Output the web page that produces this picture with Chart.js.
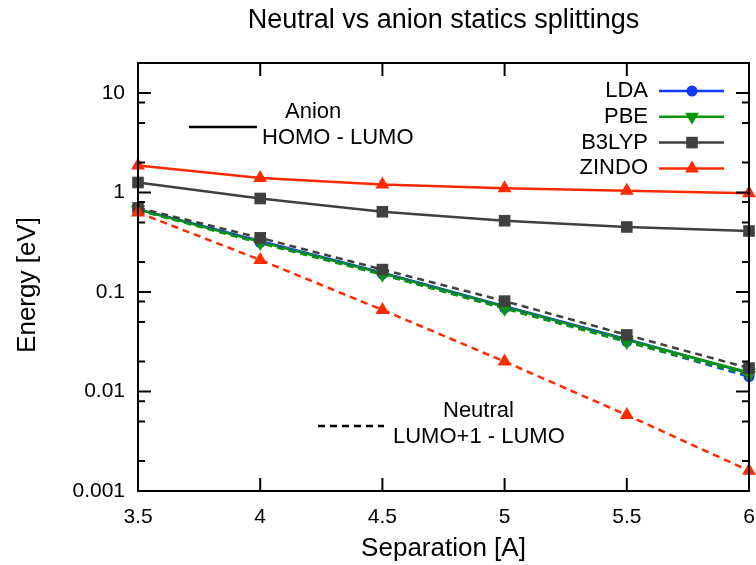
<!DOCTYPE html>
<html>
<head>
<meta charset="utf-8">
<script src="https://cdn.jsdelivr.net/npm/chart.js@4.4.0/dist/chart.umd.min.js"></script>
<style>
  html, body { margin:0; padding:0; background:#fff; }
  #wrap { width:756px; height:565px; }
</style>
</head>
<body>
<div id="wrap"><canvas id="chart" width="756" height="565"></canvas></div>
<script>
'use strict';

const separation = [3.5, 4, 4.5, 5, 5.5, 6];

// anion HOMO - LUMO (solid)
const ldaAnion   = [0.68, 0.325, 0.156, 0.072, 0.0335, 0.0152];
const pbeAnion   = [0.675, 0.32, 0.154, 0.071, 0.033, 0.0155];
const b3lypAnion = [1.26, 0.87, 0.64, 0.52, 0.45, 0.41];
const zindoAnion = [1.87, 1.40, 1.20, 1.10, 1.04, 0.98];

// neutral LUMO+1 - LUMO (dashed)
const ldaNeutral   = [0.67, 0.315, 0.151, 0.069, 0.0318, 0.0141];
const pbeNeutral   = [0.665, 0.31, 0.149, 0.068, 0.0315, 0.0146];
const b3lypNeutral = [0.70, 0.35, 0.168, 0.081, 0.037, 0.0172];
const zindoNeutral = [0.63, 0.21, 0.066, 0.020, 0.0058, 0.0016];

const xTicks = [3.5, 4, 4.5, 5, 5.5, 6];
const yTicks = [0.001, 0.01, 0.1, 1, 10];
const yMinorSteps = [2, 5, 8];

const methods = [
  { name:'LDA',   color:'#1038ff', style:'circle',   radius:5.5, rot:0,   anion:ldaAnion,   neutral:ldaNeutral },
  { name:'PBE',   color:'#0a960a', style:'triangle', radius:8,   rot:180, anion:pbeAnion,   neutral:pbeNeutral },
  { name:'B3LYP', color:'#404040', style:'rect',     radius:8.2, rot:0,   anion:b3lypAnion, neutral:b3lypNeutral },
  { name:'ZINDO', color:'#ff2a00', style:'triangle', radius:8,   rot:0,   anion:zindoAnion, neutral:zindoNeutral },
];

const FONT = "'Liberation Sans', Arial, sans-serif";
const pts = arr => separation.map((x, i) => ({ x, y: arr[i] }));

const mkSet = (m, vals, dashed) => ({
  label: m.name + (dashed ? ' neutral' : ' anion'),
  data: pts(vals),
  borderColor: m.color, backgroundColor: m.color,
  borderWidth: 2.5, borderDash: dashed ? [7, 5] : [],
  pointStyle: m.style, pointRotation: m.rot, pointRadius: m.radius,
  pointBorderWidth: 0, pointHoverRadius: m.radius,
  tension: 0, clip: false, fill: false,
});

// gnuplot order: anion then neutral; Chart.js draws index 0 last, so reverse
const datasets = [
  ...methods.map(m => mkSet(m, m.anion, false)),
  ...methods.map(m => mkSet(m, m.neutral, true)),
].reverse();

function drawMarker(ctx, style, rot, x, y, r, color) {
  ctx.save();
  ctx.fillStyle = color;
  ctx.beginPath();
  if (style === 'circle') {
    ctx.arc(x, y, r, 0, Math.PI * 2);
  } else if (style === 'rect') {
    const s = Math.SQRT1_2 * r;
    ctx.rect(x - s, y - s, 2 * s, 2 * s);
  } else {
    let a = rot * Math.PI / 180;
    for (let k = 0; k < 3; k++) {
      const px = x + Math.sin(a) * r, py = y - Math.cos(a) * r;
      if (k === 0) ctx.moveTo(px, py); else ctx.lineTo(px, py);
      a += 2 * Math.PI / 3;
    }
    ctx.closePath();
  }
  ctx.fill();
  ctx.restore();
}

const decorations = {
  id: 'decorations',
  afterDraw(chart) {
    const { ctx, chartArea: a, scales: { x, y } } = chart;
    ctx.save();
    ctx.strokeStyle = '#000';
    ctx.lineWidth = 2;

    // inward ticks, mirrored
    ctx.beginPath();
    xTicks.forEach(v => {
      const px = x.getPixelForValue(v);
      ctx.moveTo(px, a.bottom); ctx.lineTo(px, a.bottom - 13);
      ctx.moveTo(px, a.top);    ctx.lineTo(px, a.top + 13);
    });
    yTicks.forEach(d => {
      const py = y.getPixelForValue(d);
      ctx.moveTo(a.left, py);  ctx.lineTo(a.left + 13, py);
      ctx.moveTo(a.right, py); ctx.lineTo(a.right - 13, py);
      yMinorSteps.forEach(s => {
        const v = d * s;
        if (v >= 20) return;
        const pm = y.getPixelForValue(v);
        ctx.moveTo(a.left, pm);  ctx.lineTo(a.left + 7, pm);
        ctx.moveTo(a.right, pm); ctx.lineTo(a.right - 7, pm);
      });
    });
    ctx.stroke();

    // border
    ctx.strokeRect(a.left, a.top, a.right - a.left, a.bottom - a.top);

    // titles
    ctx.fillStyle = '#000';
    ctx.textAlign = 'center';
    ctx.textBaseline = 'middle';
    ctx.font = '27px ' + FONT;
    ctx.fillText('Neutral vs anion statics splittings', (a.left + a.right) / 2, 21);
    ctx.font = '26px ' + FONT;
    ctx.fillText('Separation [A]', (a.left + a.right) / 2, 549);
    ctx.save();
    ctx.translate(28, 285);
    ctx.rotate(-Math.PI / 2);
    ctx.fillText('Energy [eV]', 0, 0);
    ctx.restore();

    // annotations
    ctx.font = '22px ' + FONT;
    ctx.textAlign = 'left';
    ctx.fillText('Anion', 285, 112);
    ctx.fillText('HOMO - LUMO', 262, 138);
    ctx.fillText('Neutral', 443, 411);
    ctx.fillText('LUMO+1 - LUMO', 393, 437);
    ctx.lineWidth = 2.5;
    ctx.beginPath(); ctx.moveTo(189, 127); ctx.lineTo(257, 127); ctx.stroke();
    ctx.setLineDash([7, 5]);
    ctx.beginPath(); ctx.moveTo(318, 426); ctx.lineTo(384, 426); ctx.stroke();
    ctx.setLineDash([]);

    // legend
    ctx.textAlign = 'right';
    methods.forEach((m, i) => {
      const ly = 91 + i * 25.8;
      ctx.fillStyle = '#000';
      ctx.fillText(m.name, 648, ly);
      ctx.strokeStyle = m.color;
      ctx.lineWidth = 2.5;
      ctx.beginPath(); ctx.moveTo(659, ly); ctx.lineTo(724, ly); ctx.stroke();
      drawMarker(ctx, m.style, m.rot, 692, ly, m.radius, m.color);
    });
    ctx.restore();
  }
};

new Chart(document.getElementById('chart'), {
  type: 'line',
  data: { datasets },
  options: {
    responsive: false, animation: false, devicePixelRatio: 1,
    layout: { autoPadding: false, padding: { top: 63, right: 7, left: 0, bottom: 0 } },
    plugins: { legend: { display: false }, tooltip: { enabled: false }, title: { display: false } },
    scales: {
      x: {
        type: 'linear', min: 3.5, max: 6,
        afterBuildTicks: s => { s.ticks = xTicks.map(v => ({ value: v })); },
        afterFit: s => { s.height = 74; s.paddingLeft = 0; s.paddingRight = 0; },
        grid: { display: false, drawTicks: false },
        border: { display: false },
        ticks: { color: '#000', font: { family: FONT, size: 21 }, padding: 14, maxRotation: 0,
                 callback: v => String(v) },
      },
      y: {
        type: 'logarithmic', min: 0.001, max: 20,
        afterBuildTicks: s => { s.ticks = yTicks.map(v => ({ value: v, major: true })); },
        afterFit: s => { s.width = 138; s.paddingTop = 0; s.paddingBottom = 0; },
        grid: { display: false, drawTicks: false },
        border: { display: false },
        ticks: { color: '#000', font: { family: FONT, size: 21 }, padding: 13,
                 callback: v => String(v) },
      },
    },
  },
  plugins: [decorations],
});
</script>
</body>
</html>
